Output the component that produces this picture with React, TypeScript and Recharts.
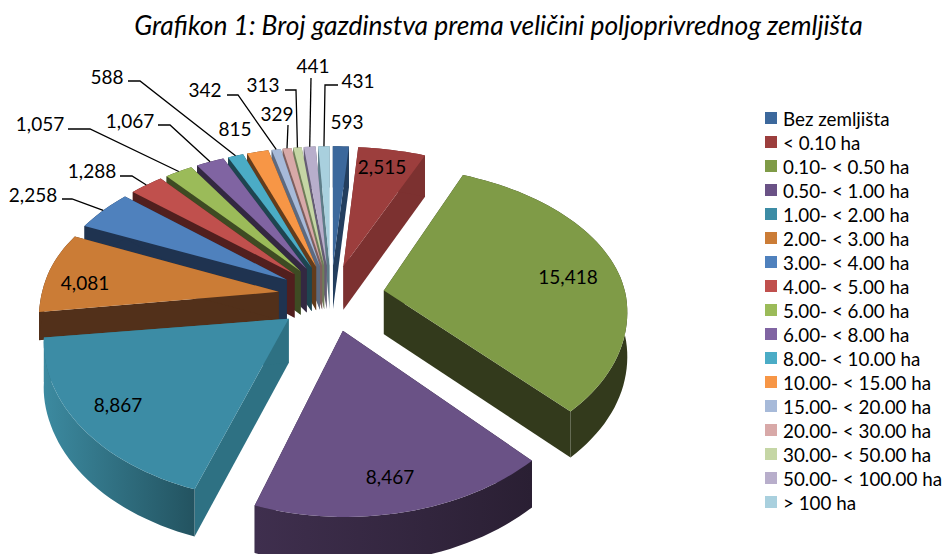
import React from 'react';
import { PieChart, Pie, Legend } from 'recharts';

const categories = [
  'Bez zemljišta', '< 0.10 ha', '0.10- < 0.50 ha', '0.50- < 1.00 ha', '1.00- < 2.00 ha',
  '2.00- < 3.00 ha', '3.00- < 4.00 ha', '4.00- < 5.00 ha', '5.00- < 6.00 ha', '6.00- < 8.00 ha',
  '8.00- < 10.00 ha', '10.00- < 15.00 ha', '15.00- < 20.00 ha', '20.00- < 30.00 ha',
  '30.00- < 50.00 ha', '50.00- < 100.00 ha', '> 100 ha',
];
const values = [593, 2515, 15418, 8467, 8867, 4081, 2258, 1288, 1057, 1067, 588, 815, 342, 329, 313, 441, 431];

const faceColors = [
  '#3c689c', '#9c3e3d', '#7f9b47', '#6a5286', '#3c8ca5', '#cb7c36', '#4f81bd', '#c0504d', '#9bbb59',
  '#8064a2', '#4bacc6', '#f79646', '#a7bad9', '#d8a9a8', '#c5d6a5', '#b8aecb', '#a9d0de',
];
const wallColors = [
  '#233e5e', '#7c3130', '#333a1c', '#2c2136', '#2e7183', '#52301a', '#1f3350', '#511f1e', '#3e4b23',
  '#332841', '#1e4550', '#633c1c', '#5d6a80', '#7f5f5e', '#6f7d58', '#655d75', '#5d7d88',
];
// the two big front slices have a shaded rim, left colour to right colour
const rimShades: Record<number, [string, string]> = {
  3: ['#3f2f4e', '#2a1f33'],
  4: ['#3c8aa0', '#235360'],
};
// orange wall is mostly hidden behind the teal slice in the original
const wallDepthOverride: Record<number, number> = { 5: 28 };

// draw the far slices first so the nearer ones sit on top of their walls
const paintOrder = [16, 15, 14, 13, 12, 11, 10, 9, 8, 7, 6, 5, 0, 1, 2, 4, 3];

// label centres and the little elbow of the leader line (none = no leader)
const labelSpots: { x: number; y: number; elbow?: [number, number]; end?: [number, number] }[] = [
  { x: 347, y: 121 },
  { x: 382, y: 166 },
  { x: 568, y: 276 },
  { x: 390, y: 476 },
  { x: 118, y: 404 },
  { x: 85, y: 282 },
  { x: 33, y: 194, elbow: [72, 199], end: [62, 199] },
  { x: 92, y: 170, elbow: [132, 176], end: [120, 176] },
  { x: 40, y: 123, elbow: [90, 129], end: [68, 129] },
  { x: 130, y: 120, elbow: [170, 125], end: [158, 125] },
  { x: 107, y: 76, elbow: [140, 81], end: [128, 81] },
  { x: 235, y: 128 },
  { x: 205, y: 89, elbow: [238, 95], end: [227, 95] },
  { x: 277, y: 113, elbow: [288, 125], end: [288, 125] },
  { x: 263, y: 84, elbow: [296, 90], end: [285, 90] },
  { x: 313, y: 65, elbow: [311, 78], end: [311, 78] },
  { x: 358, y: 80, elbow: [325, 85], end: [338, 85] },
];

const rows = categories.map((name, idx) => ({ name, value: values[idx], idx }));

const FONT = 'Lato, "Open Sans", sans-serif';
const EXPLODE = 54;
const DEPTH = 44;
const PERSPECTIVE = 0.12;

const rad = (deg: number) => (deg * Math.PI) / 180;

// fake 3D: tilted plane with a bit of perspective, theta is clockwise from the top
const project = (p: any, theta: number, rho: number) => {
  const mid = rad(90 - p.midAngle);
  const rawX = EXPLODE * Math.sin(mid) + rho * Math.sin(rad(theta));
  const X = rawX < 0 ? rawX * 0.985 : rawX;
  const Z = EXPLODE * Math.cos(mid) + rho * Math.cos(rad(theta));
  const w = 1 / (1 + (PERSPECTIVE * Z) / p.outerRadius);
  const tilt = Z > 0 ? 0.58 : 0.64;
  // left side of the original sags a little
  const sag = 0.02 * Math.max(0, -X) * Math.exp(-(((Z + 20) / 50) ** 2));
  return { x: p.cx + X * w, y: p.cy - tilt * Z * w + sag, w };
};

const toPath = (pts: { x: number; y: number }[]) =>
  pts.map((pt, i) => `${i ? 'L' : 'M'}${pt.x.toFixed(1)},${pt.y.toFixed(1)}`).join(' ') + ' Z';

const Slice = (p: any) => {
  const from = 90 - p.startAngle;
  const to = 90 - p.endAngle;
  const steps = Math.max(2, Math.ceil((to - from) / 2));
  const depth = wallDepthOverride[p.idx] ?? DEPTH;
  const dropped = (pt: { x: number; y: number; w: number }) => ({ x: pt.x, y: pt.y + depth * Math.sqrt(pt.w), w: pt.w });
  const arc = [];
  for (let s = 0; s <= steps; s++) arc.push(project(p, from + ((to - from) * s) / steps, p.outerRadius));
  const apex = project(p, from, 0);
  const first = arc[0];
  const last = arc[arc.length - 1];
  const shade = rimShades[p.idx];
  const rimFill = shade ? `url(#rim-${p.idx})` : wallColors[p.idx];
  return (
    <g>
      {shade && (
        <defs>
          <linearGradient id={`rim-${p.idx}`} x1="0" y1="0" x2="1" y2="0">
            <stop offset="0%" stopColor={shade[0]} />
            <stop offset="100%" stopColor={shade[1]} />
          </linearGradient>
        </defs>
      )}
      <path d={toPath([apex, first, dropped(first), dropped(apex)])} fill={wallColors[p.idx]} />
      <path d={toPath([apex, last, dropped(last), dropped(apex)])} fill={wallColors[p.idx]} />
      <path d={toPath([...arc, ...arc.map(dropped).reverse()])} fill={rimFill} />
      <path d={toPath([apex, ...arc])} fill={faceColors[p.idx]} />
    </g>
  );
};

const SliceLabel = (p: any) => {
  const spot = labelSpots[p.idx];
  const theta = 90 - p.midAngle;
  const anchor = project(p, theta, p.outerRadius);
  return (
    <g>
      {spot.elbow && spot.end && (
        <polyline
          points={`${anchor.x},${anchor.y} ${spot.elbow[0]},${spot.elbow[1]} ${spot.end[0]},${spot.end[1]}`}
          fill="none"
          stroke="#000"
          strokeWidth={1.3}
        />
      )}
      <text x={spot.x} y={spot.y} textAnchor="middle" dominantBaseline="central" fontFamily={FONT} fontSize={19} fill="#000">
        {values[p.idx].toLocaleString('en-US')}
      </text>
    </g>
  );
};

const LegendList = () => (
  <div style={{ fontFamily: FONT, fontSize: 18.8, color: '#000' }}>
    {categories.map((name, i) => (
      <div key={name} style={{ display: 'flex', alignItems: 'center', height: 24, whiteSpace: 'nowrap' }}>
        <span style={{ width: 12, height: 12, background: faceColors[i], marginRight: 6, flex: 'none' }} />
        {name}
      </div>
    ))}
  </div>
);

export default function App() {
  return (
    <div style={{ position: 'absolute', left: 0, top: 0, width: 943, height: 554, background: '#fff', overflow: 'hidden' }}>
      <div
        style={{
          position: 'absolute', left: 0, top: 9, width: 997, textAlign: 'center', fontFamily: FONT,
          fontStyle: 'italic', fontSize: 26.4, whiteSpace: 'nowrap', color: '#000',
        }}
      >
        Grafikon 1: Broj gazdinstva prema veličini poljoprivrednog zemljišta
      </div>
      <PieChart width={943} height={554} margin={{ top: 0, right: 0, bottom: 0, left: 0 }}>
        {paintOrder.map((i) => (
          <Pie
            key={i}
            data={rows}
            dataKey="value"
            nameKey="name"
            cx={331}
            cy={296}
            innerRadius={0}
            outerRadius={242}
            startAngle={90}
            endAngle={-270}
            isAnimationActive={false}
            legendType="none"
            shape={(props: any) => (props.idx === i ? <Slice {...props} /> : <g />)}
          />
        ))}
        <Pie
          data={rows}
          dataKey="value"
          nameKey="name"
          cx={331}
          cy={296}
          innerRadius={0}
          outerRadius={242}
          startAngle={90}
          endAngle={-270}
          isAnimationActive={false}
          legendType="none"
          shape={() => <g />}
          labelLine={false}
          label={(props: any) => <SliceLabel {...props} />}
        />
        <Legend content={<LegendList />} wrapperStyle={{ left: 765, top: 106, width: 178, bottom: 'auto' }} />
      </PieChart>
    </div>
  );
}
